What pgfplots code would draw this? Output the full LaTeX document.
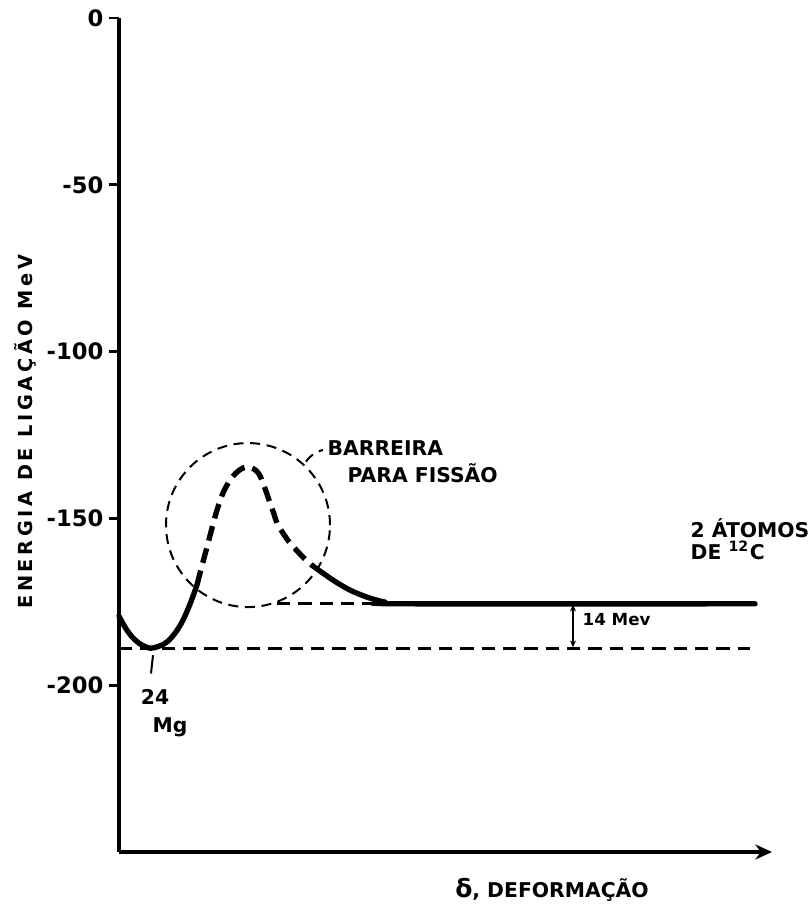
\documentclass[border=0pt]{standalone}
\usepackage{fontspec}
\setmainfont{DejaVu Sans}
\usepackage{pgfplots}
\pgfplotsset{compat=1.18}
\usetikzlibrary{arrows.meta}
\tikzset{
  curve/.style={black,line width=1.6pt,smooth,no markers,line cap=round},
  dcurve/.style={curve,dash pattern=on 4.5pt off 2.4pt,line cap=butt},
  ref/.style={black,line width=0.8pt,dash pattern=on 4pt off 2.4pt},
  lab/.style={font=\bfseries\fontsize{6.1}{7.2}\selectfont,inner sep=0pt},
}
\begin{document}
\begin{tikzpicture}
\useasboundingbox (-35.7pt,-17.4pt) rectangle (207.6pt,255.6pt);
\begin{axis}[
  scale only axis,width=195.9pt,height=250.2pt,
  xmin=0,xmax=653,ymin=-250,ymax=0,
  axis x line=bottom,axis y line=left,
  axis line style={line width=1.3pt},
  x axis line style={-{Stealth[length=5pt,width=4.5pt]}},
  y axis line style={-},
  xtick=\empty,
  ytick={0,-50,-100,-150,-200},
  tick align=outside,major tick length=3pt,
  tick style={line width=0.8pt,black},
  /pgf/number format/assume math mode=true,
  yticklabel style={font=\bfseries\fontsize{6.8}{7.5}\selectfont,inner sep=0pt,xshift=-1.5pt},
  clip=false,
]
% 24Mg well
\addplot[curve] coordinates {(0,-179.3) (6,-182.6) (13,-185.5) (21,-187.6) (31,-188.9) (41,-188.2) (49,-186.8) (57,-184.0) (64,-180.5) (71,-175.7) (78,-170.0)};
% barrier (dashed)
\addplot[dcurve] coordinates {(78,-170.0) (81,-166.4) (88,-158.6) (93,-152.9) (98,-147.5) (104,-142.4) (111,-138.5) (118,-136.1) (124,-134.9) (129,-134.6) (135,-135.2) (140,-136.7) (144,-139.4) (148,-142.7) (151,-145.4) (155,-148.7) (158,-151.4) (164,-154.4) (171,-157.4) (184,-161.6) (194,-164.3)};
% towards two 12C
\addplot[curve] coordinates {(194,-164.3) (214,-168.5) (231,-171.5) (248,-173.6) (266,-175.1) (286,-175.6) (636,-175.6)};
% reference levels
\addplot[ref] coordinates {(0,-188.9) (631,-188.9)};
\addplot[ref] coordinates {(158,-175.6) (286,-175.6)};

\draw[black,line width=0.6pt,dash pattern=on 3pt off 2pt] (axis cs:129,-152) circle[radius=24.6pt];
\draw[black,line width=0.6pt,dash pattern=on 3pt off 2pt] (axis cs:187,-133) to[bend left=20] (axis cs:204,-129.5);
\draw[black,line width=0.6pt,{Stealth[length=2pt,width=1.8pt]}-{Stealth[length=2pt,width=1.8pt]}] (axis cs:454,-175.9) -- (axis cs:454,-188.6);
\draw[black,line width=0.6pt] (axis cs:34,-191) -- (axis cs:32,-196.5);

\node[lab,anchor=west] at (axis cs:208,-128.9) {BARREIRA};
\node[lab,anchor=west] at (axis cs:228,-136.4) {PARA FISSÃO};
\node[lab,anchor=west] at (axis cs:571,-152.9) {2 ÁTOMOS};
\node[lab,anchor=west] at (axis cs:571,-159.5) {DE \textsuperscript{12}C};
\node[lab,anchor=west,font=\bfseries\fontsize{5}{5.5}\selectfont] at (axis cs:463,-180.2) {14 Mev};
\node[lab] at (axis cs:36,-203.5) {24};
\node[lab] at (axis cs:51,-212.5) {Mg};
\node[lab,anchor=center] at (axis cs:433,-261.4) {{\fontsize{7.5}{8}\selectfont δ}, DEFORMAÇÃO};
\node[lab,rotate=90,font=\bfseries\fontsize{5.8}{6.5}\selectfont\addfontfeature{LetterSpace=19}] at (axis cs:-94,-124) {ENERGIA DE LIGAÇÃO MeV};
\end{axis}
\end{tikzpicture}
\end{document}
